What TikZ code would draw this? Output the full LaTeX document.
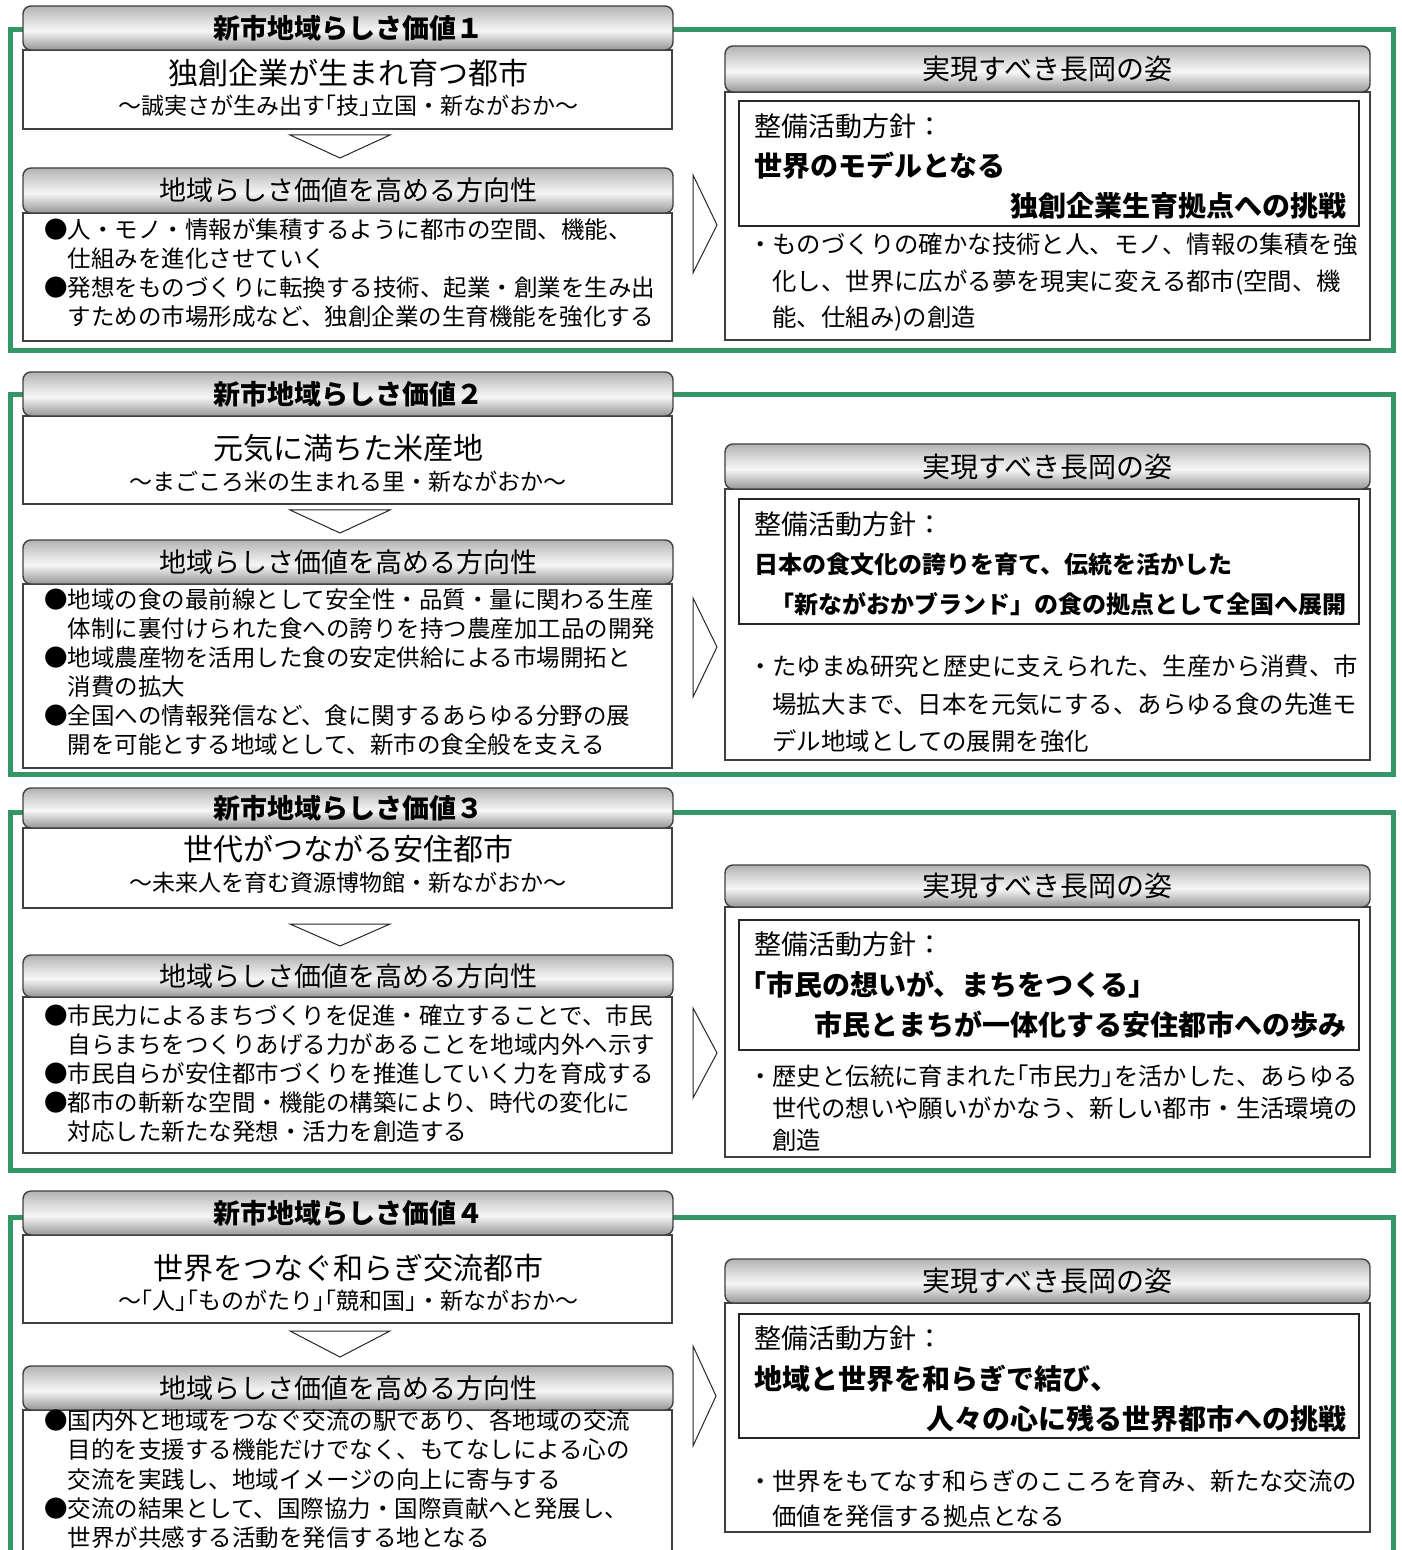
\documentclass[tikz,border=0pt]{standalone}
\usepackage{fontspec}
\setmainfont{Noto Sans CJK JP}
\definecolor{grn}{RGB}{52,150,102}
\definecolor{hbot}{RGB}{150,150,150}
\definecolor{hmid}{RGB}{246,246,246}
\definecolor{hup}{RGB}{212,212,212}
\definecolor{htop}{RGB}{178,178,178}
\pgfdeclareverticalshading{hdrshade}{100bp}{color(0bp)=(hbot); color(25bp)=(hbot); color(47bp)=(hmid); color(62bp)=(hup); color(75bp)=(htop); color(100bp)=(htop)}
\newcommand\mystrut{\rule[-0.12em]{0pt}{1em}}
\newcommand\nlb{\makebox[0.5em][r]{「}}
\newcommand\nrb{\makebox[0.5em][l]{」}}
\newcommand\fsz[1]{\fontsize{#1}{#1}\selectfont}
\newcommand\boxat[6]{\node[#2,anchor=north west,minimum width={(#5-#3)*0.5pt},minimum height={(#6-#4)*0.5pt}] (#1) at (#3,#4) {};}
\tikzset{
 grnframe/.style={draw=grn, line width=2.5pt},
 hdrbox/.style={draw=black!75, line width=0.7pt, rounded corners=4pt, shading=hdrshade, inner sep=0pt, outer sep=0pt},
 wbox/.style={draw=black!75, line width=0.6pt, fill=white, inner sep=0pt, outer sep=0pt},
 innerbox/.style={draw=black!85, line width=0.7pt, inner sep=0pt, outer sep=0pt},
 chev/.style={draw=black!85, line width=0.5pt, line join=miter},
 txt/.style={inner sep=0pt, outer sep=0pt, execute at begin node=\mystrut},
 fhdr/.style={txt, font=\fsz{13.5}\bfseries},
 ftitle/.style={txt, font=\fsz{15}},
 fsub/.style={txt, font=\fsz{11.5}},
 fdir/.style={txt, font=\fsz{13.5}},
 fright/.style={txt, font=\fsz{14}},
 fpol/.style={txt, font=\fsz{13.5}, anchor=west},
 fbold/.style={txt, font=\fsz{14}\bfseries},
 fbody/.style={txt, font=\fsz{11.75}, anchor=west},
 fbul/.style={txt, font=\fsz{12.2}, anchor=west},
}
\begin{document}
\begin{tikzpicture}[x=0.5pt,y=-0.5pt]
\useasboundingbox (0,0) rectangle (1401,1550);
\fill[white] (0,0) rectangle (1401,1550);
\clip (0,0) rectangle (1401,1550);

% ================= Panel 1 =================
\draw[grnframe] (10,30) rectangle (1393,351);
\boxat{t1}{wbox}{23}{50}{672}{129}
\boxat{h1}{hdrbox}{23}{6}{673}{50}
\node[fhdr] (h1t) at (h1.center) {新市地域らしさ価値１};
\node[ftitle] (t1a) at (348,73) {独創企業が生まれ育つ都市};
\node[fsub] (t1b) at (348,106) {～誠実さが生み出す\nlb 技\nrb 立国・新ながおか～};
\draw[chev] (290,135) -- (390,135) -- (340,158) -- cycle;
\boxat{b1}{wbox}{23}{213}{672}{341}
\boxat{d1}{hdrbox}{23}{168}{673}{213}
\node[fdir] (d1t) at (d1.center) {地域らしさ価値を高める方向性};
\node[fbody] (b1a) at (44,230) {●人・モノ・情報が集積するように都市の空間、機能、};
\node[fbody] (b1b) at (67.5,259) {仕組みを進化させていく};
\node[fbody] (b1c) at (44,288) {●発想をものづくりに転換する技術、起業・創業を生み出};
\node[fbody] (b1d) at (67.5,317) {すための市場形成など、独創企業の生育機能を強化する};
\draw[chev] (693,175) -- (717,225) -- (693,273) -- cycle;
\boxat{r1}{wbox}{725}{92}{1370}{340}
\boxat{rh1}{hdrbox}{725}{46}{1370}{92}
\node[fright] (rh1t) at (rh1.center) {実現すべき長岡の姿};
\boxat{i1}{innerbox}{739}{101}{1359}{226}
\node[fpol] (i1a) at (754,126) {整備活動方針：};
\node[fbold,anchor=west] (i1b) at (754,166) {世界のモデルとなる};
\node[fbold,anchor=east] (i1c) at (1346,206) {独創企業生育拠点への挑戦};
\node[fbul] (r1a) at (748,244) {・ものづくりの確かな技術と人、モノ、情報の集積を強};
\node[fbul] (r1b) at (772.4,282) {化し、世界に広がる夢を現実に変える都市(空間、機};
\node[fbul] (r1c) at (772.4,318) {能、仕組み)の創造};

% ================= Panel 2 =================
\draw[grnframe] (10,395) rectangle (1393,774);
\boxat{t2}{wbox}{23}{416}{672}{504}
\boxat{h2}{hdrbox}{23}{372}{673}{416}
\node[fhdr] (h2t) at (h2.center) {新市地域らしさ価値２};
\node[ftitle] (t2a) at (348,448) {元気に満ちた米産地};
\node[fsub] (t2b) at (348,482) {～まごころ米の生まれる里・新ながおか～};
\draw[chev] (290,510) -- (390,510) -- (340,533) -- cycle;
\boxat{b2}{wbox}{23}{584}{672}{768}
\boxat{d2}{hdrbox}{23}{540}{673}{584}
\node[fdir] (d2t) at (d2.center) {地域らしさ価値を高める方向性};
\node[fbody] (b2a) at (44,600) {●地域の食の最前線として安全性・品質・量に関わる生産};
\node[fbody] (b2b) at (67.5,629) {体制に裏付けられた食への誇りを持つ農産加工品の開発};
\node[fbody] (b2c) at (44,658) {●地域農産物を活用した食の安定供給による市場開拓と};
\node[fbody] (b2d) at (67.5,687) {消費の拡大};
\node[fbody] (b2e) at (44,716) {●全国への情報発信など、食に関するあらゆる分野の展};
\node[fbody] (b2f) at (67.5,745) {開を可能とする地域として、新市の食全般を支える};
\draw[chev] (693,598) -- (717,647) -- (693,697) -- cycle;
\boxat{r2}{wbox}{725}{489}{1370}{760}
\boxat{rh2}{hdrbox}{725}{444}{1370}{489}
\node[fright] (rh2t) at (rh2.center) {実現すべき長岡の姿};
\boxat{i2}{innerbox}{739}{499}{1359}{624}
\node[fpol] (i2a) at (754,524) {整備活動方針：};
\node[fbold,font=\fsz{12}\bfseries,anchor=west] (i2b) at (754,564) {日本の食文化の誇りを育て、伝統を活かした};
\node[fbold,font=\fsz{12}\bfseries,anchor=east] (i2c) at (1346,604) {「新ながおかブランド」の食の拠点として全国へ展開};
\node[fbul] (r2a) at (748,666) {・たゆまぬ研究と歴史に支えられた、生産から消費、市};
\node[fbul] (r2b) at (772.4,704) {場拡大まで、日本を元気にする、あらゆる食の先進モ};
\node[fbul] (r2c) at (772.4,741) {デル地域としての展開を強化};

% ================= Panel 3 =================
\draw[grnframe] (10,812) rectangle (1393,1170);
\boxat{t3}{wbox}{23}{828}{672}{908}
\boxat{h3}{hdrbox}{23}{788}{673}{828}
\node[fhdr] (h3t) at (h3.center) {新市地域らしさ価値３};
\node[ftitle] (t3a) at (348,849) {世代がつながる安住都市};
\node[fsub] (t3b) at (348,883) {～未来人を育む資源博物館・新ながおか～};
\draw[chev] (290,924) -- (390,924) -- (340,946) -- cycle;
\boxat{b3}{wbox}{23}{997}{672}{1153}
\boxat{d3}{hdrbox}{23}{955}{673}{997}
\node[fdir] (d3t) at (d3.center) {地域らしさ価値を高める方向性};
\node[fbody] (b3a) at (44,1016) {●市民力によるまちづくりを促進・確立することで、市民};
\node[fbody] (b3b) at (67.5,1045) {自らまちをつくりあげる力があることを地域内外へ示す};
\node[fbody] (b3c) at (44,1074) {●市民自らが安住都市づくりを推進していく力を育成する};
\node[fbody] (b3d) at (44,1103) {●都市の斬新な空間・機能の構築により、時代の変化に};
\node[fbody] (b3e) at (67.5,1132) {対応した新たな発想・活力を創造する};
\draw[chev] (693,1008) -- (717,1053) -- (693,1098) -- cycle;
\boxat{r3}{wbox}{725}{907}{1370}{1157}
\boxat{rh3}{hdrbox}{725}{865}{1370}{907}
\node[fright] (rh3t) at (rh3.center) {実現すべき長岡の姿};
\boxat{i3}{innerbox}{739}{920}{1359}{1050}
\node[fpol] (i3a) at (754,944) {整備活動方針：};
\node[fbold,anchor=west] (i3b) at (752,985) {\nlb 市民の想いが、まちをつくる\nrb};
\node[fbold,anchor=east] (i3c) at (1346,1025) {市民とまちが一体化する安住都市への歩み};
\node[fbul] (r3a) at (748,1076) {・歴史と伝統に育まれた\nlb 市民力\nrb を活かした、あらゆる};
\node[fbul] (r3b) at (772.4,1108) {世代の想いや願いがかなう、新しい都市・生活環境の};
\node[fbul] (r3c) at (772.4,1140) {創造};

% ================= Panel 4 =================
\draw[grnframe] (10,1217) rectangle (1393,1600);
\boxat{t4}{wbox}{23}{1235}{672}{1323}
\boxat{h4}{hdrbox}{23}{1191}{673}{1235}
\node[fhdr] (h4t) at (h4.center) {新市地域らしさ価値４};
\node[ftitle] (t4a) at (348,1268) {世界をつなぐ和らぎ交流都市};
\node[fsub] (t4b) at (348,1301) {～\nlb 人\nrb\nlb ものがたり\nrb\nlb 競和国\nrb・新ながおか～};
\draw[chev] (290,1331) -- (390,1331) -- (340,1357) -- cycle;
\boxat{b4}{wbox}{23}{1410}{672}{1580}
\boxat{d4}{hdrbox}{23}{1366}{673}{1410}
\node[fdir] (d4t) at (d4.center) {地域らしさ価値を高める方向性};
\node[fbody] (b4a) at (44,1421) {●国内外と地域をつなぐ交流の駅であり、各地域の交流};
\node[fbody] (b4b) at (67.5,1450) {目的を支援する機能だけでなく、もてなしによる心の};
\node[fbody] (b4c) at (67.5,1480) {交流を実践し、地域イメージの向上に寄与する};
\node[fbody] (b4d) at (44,1509) {●交流の結果として、国際協力・国際貢献へと発展し、};
\node[fbody] (b4e) at (67.5,1538) {世界が共感する活動を発信する地となる};
\draw[chev] (693,1346) -- (716,1396) -- (693,1446) -- cycle;
\boxat{r4}{wbox}{725}{1303}{1370}{1532}
\boxat{rh4}{hdrbox}{725}{1259}{1370}{1303}
\node[fright] (rh4t) at (rh4.center) {実現すべき長岡の姿};
\boxat{i4}{innerbox}{739}{1314}{1359}{1438}
\node[fpol] (i4a) at (754,1338) {整備活動方針：};
\node[fbold,anchor=west] (i4b) at (754,1379) {地域と世界を和らぎで結び、};
\node[fbold,anchor=east] (i4c) at (1346,1419) {人々の心に残る世界都市への挑戦};
\node[fbul] (r4a) at (748,1481) {・世界をもてなす和らぎのこころを育み、新たな交流の};
\node[fbul] (r4b) at (772.4,1516) {価値を発信する拠点となる};
\end{tikzpicture}
\end{document}
